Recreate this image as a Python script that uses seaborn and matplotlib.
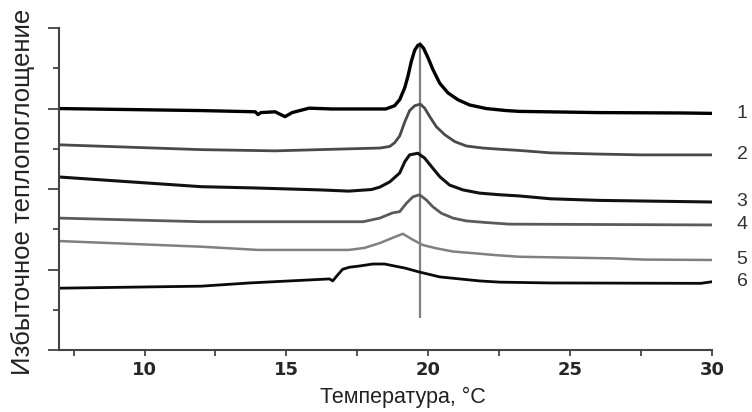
import numpy as np
import pandas as pd
import matplotlib
matplotlib.use('Agg')
import matplotlib.pyplot as plt
import seaborn as sns
from matplotlib.ticker import MultipleLocator

# DSC curves (temperature in °C, excess heat capacity in arb. units)
t1 = [7.0, 12.0, 13.9, 14.0, 14.1, 14.6, 14.8, 14.95, 15.2, 15.8, 16.6, 18.5, 18.81, 18.99, 19.17, 19.28, 19.40, 19.52, 19.63, 19.72,
      19.83, 19.99, 20.16, 20.40, 20.69, 21.04, 21.45, 22.04, 22.75, 23.21, 26.0, 29.0, 30.0]
c1 = [6.0, 5.95, 5.92, 5.85, 5.90, 5.92, 5.85, 5.80, 5.90, 6.01, 5.99, 5.99, 6.07, 6.22, 6.52, 6.80, 7.17, 7.45, 7.57, 7.59,
      7.50, 7.26, 6.97, 6.63, 6.39, 6.22, 6.09, 6.00, 5.95, 5.93, 5.90, 5.89, 5.88]

t2 = [7.0, 12.0, 14.6, 17.2, 18.3, 18.64, 18.81, 18.99, 19.17, 19.34, 19.52, 19.72, 19.87, 20.05, 20.28, 20.58, 20.93, 21.34, 21.92,
      22.51, 23.21, 24.3, 26.0, 27.5, 30.0]
c2 = [5.10, 4.98, 4.95, 5.00, 5.02, 5.06, 5.15, 5.32, 5.67, 5.95, 6.07, 6.11, 6.01, 5.80, 5.55, 5.35, 5.18, 5.07, 5.02,
      4.99, 4.96, 4.90, 4.87, 4.85, 4.85]

t3 = [7.0, 12.0, 13.8, 16.2, 17.2, 18.0, 18.29, 18.64, 18.99, 19.17, 19.34, 19.63, 19.87, 20.11, 20.40, 20.75, 21.22, 21.81, 22.51,
      23.21, 24.3, 26.0, 28.0, 30.0]
c3 = [4.30, 4.06, 4.03, 3.98, 3.95, 3.99, 4.05, 4.18, 4.40, 4.68, 4.85, 4.89, 4.77, 4.56, 4.31, 4.10, 3.98, 3.90, 3.86,
      3.83, 3.76, 3.72, 3.70, 3.68]

t4 = [7.0, 12.0, 17.7, 18.29, 18.74, 18.99, 19.23, 19.46, 19.69, 19.93, 20.16, 20.46, 20.87, 21.34, 22.04, 22.86, 30.0]
c4 = [3.28, 3.19, 3.19, 3.28, 3.41, 3.44, 3.65, 3.81, 3.86, 3.73, 3.56, 3.40, 3.28, 3.21, 3.17, 3.13, 3.11]

t5 = [7.0, 12.0, 14.0, 17.2, 17.75, 18.29, 18.81, 19.1, 19.46, 19.81, 20.28, 20.87, 21.57, 22.39, 23.21, 26.5, 27.6, 30.0]
c5 = [2.71, 2.57, 2.49, 2.49, 2.54, 2.66, 2.81, 2.89, 2.74, 2.61, 2.53, 2.45, 2.41, 2.36, 2.32, 2.28, 2.25, 2.24]

t6 = [7.0, 12.0, 13.7, 16.52, 16.63, 16.77, 16.98, 17.22, 17.57, 18.04, 18.46, 18.81, 19.17, 19.69, 20.40, 21.10, 21.81,
      22.51, 24.3, 29.6, 30.0]
c6 = [1.54, 1.59, 1.67, 1.77, 1.72, 1.84, 2.01, 2.06, 2.09, 2.14, 2.14, 2.09, 2.04, 1.94, 1.82, 1.77, 1.72,
      1.69, 1.67, 1.66, 1.70]

curve_names = ['1', '2', '3', '4', '5', '6']
temps = [t1, t2, t3, t4, t5, t6]
values = [c1, c2, c3, c4, c5, c6]

# transition temperature marker
t_peak = 19.72
peak_span = (0.8, 7.65)

sns.set_style('ticks')
plt.rcParams['font.family'] = ['Liberation Sans', 'DejaVu Sans']

colors = ['#000000', '#4a4a4a', '#111111', '#5a5a5a', '#808080', '#0a0a0a']
widths = [2.4, 2.0, 2.2, 2.0, 1.8, 2.0]

fig = plt.figure(figsize=(7.52, 4.12), dpi=100)
ax = fig.add_axes([0.079, 0.150, 0.868, 0.782])

for name, t, c, col, lw in zip(curve_names, temps, values, colors, widths):
    df = pd.DataFrame({'T': t, 'Cp': c})
    sns.lineplot(data=df, x='T', y='Cp', color=col, lw=lw, ax=ax)

ax.vlines(t_peak, *peak_span, color='#808080', lw=1.6, zorder=0)

ax.set_xlim(7, 30)
ax.set_ylim(0, 8)

# curve numbers to the right of each trace
for name, t, c in zip(curve_names, temps, values):
    ax.text(t[-1] + 1.05, c[-1], name, fontsize=14, color='#333333',
            ha='center', va='center', clip_on=False)

ax.xaxis.set_major_locator(MultipleLocator(5))
ax.xaxis.set_minor_locator(MultipleLocator(2.5))
ax.yaxis.set_major_locator(MultipleLocator(2))
ax.yaxis.set_minor_locator(MultipleLocator(1))
ax.set_yticklabels([])
ax.tick_params(axis='x', which='both', length=4, width=1.3, color='#444444', labelsize=13, pad=4)
ax.tick_params(axis='y', which='major', length=8, width=1.3, color='#444444')
ax.tick_params(axis='y', which='minor', length=4, width=1.3, color='#444444')
for lab in ax.get_xticklabels():
    lab.set_fontweight('bold')
    lab.set_family('DejaVu Sans')

sns.despine(ax=ax)
for s in ['left', 'bottom']:
    ax.spines[s].set_color('#444444')
    ax.spines[s].set_linewidth(1.5)

ax.set_xlabel('Температура, °C', fontsize=15.5, color='#222222')
ax.xaxis.set_label_coords(0.526, -0.146)
ax.xaxis.label.set_va('center')
ax.set_ylabel('Избыточное теплопоглощение', fontsize=18.5, color='#222222')
ax.yaxis.set_label_coords(-0.056, 0.49)
ax.yaxis.label.set_va('center')

fig.savefig('out.png', dpi=100)
